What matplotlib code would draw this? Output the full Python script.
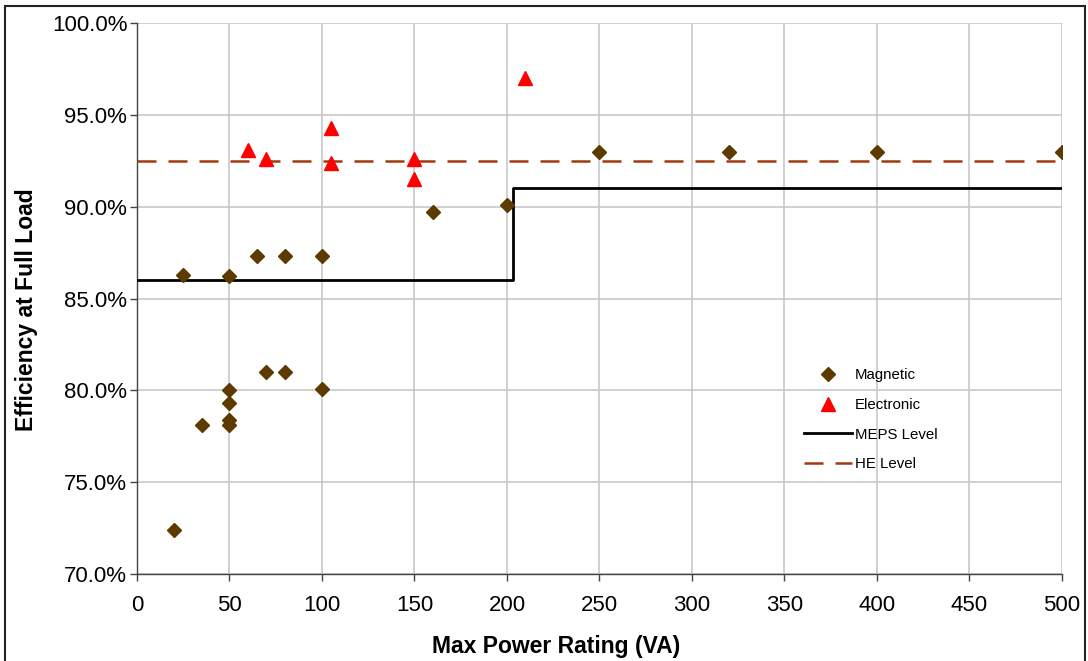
import matplotlib.pyplot as plt
from matplotlib.patches import Rectangle
from matplotlib.ticker import FuncFormatter

plt.rcParams['font.family'] = ['Liberation Sans', 'DejaVu Sans']

# Magnetic transformers: (rating VA, efficiency %)
magnetic_va = [20, 25, 35, 50, 50, 50, 50, 50, 65, 70, 80, 80, 100, 100,
               160, 200, 250, 320, 400, 500]
magnetic_eff = [72.4, 86.3, 78.1, 86.2, 80.0, 79.3, 78.4, 78.1, 87.3, 81.0,
                87.3, 81.0, 87.3, 80.1, 89.7, 90.1, 93.0, 93.0, 93.0, 93.0]

# Electronic transformers
electronic_va = [60, 70, 105, 105, 150, 150, 210]
electronic_eff = [93.1, 92.6, 94.3, 92.4, 92.6, 91.5, 97.0]

# MEPS step level and high efficiency level
meps_va = [0, 203, 203, 500]
meps_eff = [86.0, 86.0, 91.0, 91.0]
he_va = [0, 500]
he_eff = [92.5, 92.5]

fig = plt.figure(figsize=(10.88, 6.61), dpi=100)
ax = fig.add_axes([0.1259, 0.1316, 0.8502, 0.8336])

ax.plot(magnetic_va, magnetic_eff, linestyle='none', marker='D', ms=7.6,
        color='#5c3a00', label='Magnetic', zorder=4)
ax.plot(electronic_va, electronic_eff, linestyle='none', marker='^', ms=10,
        color='#ff0000', label='Electronic', zorder=4)
ax.plot(meps_va, meps_eff, color='black', lw=2.0, label='MEPS Level', zorder=3)
ax.plot(he_va, he_eff, color='#a3390f', lw=1.8, dashes=(7.6, 4.8),
        label='HE Level', zorder=3)

ax.set_xlim(0, 500)
ax.set_ylim(70, 100)
ax.set_xticks(range(0, 501, 50))
ax.set_yticks(range(70, 101, 5))
ax.yaxis.set_major_formatter(FuncFormatter(lambda v, p: f'{v:.1f}%'))
ax.grid(True, color='#c8c8c8', lw=1.2)
ax.set_axisbelow(True)

for side in ['top', 'right']:
    ax.spines[side].set_visible(False)
for side in ['left', 'bottom']:
    ax.spines[side].set_color('#444444')
    ax.spines[side].set_linewidth(1.0)

ax.tick_params(axis='both', direction='out', length=5, width=1.0,
               color='#444444', labelsize=16)
ax.tick_params(axis='x', pad=10)
ax.tick_params(axis='y', pad=2)

ax.set_xlabel('Max Power Rating (VA)', fontsize=16.5, fontweight='bold')
ax.set_ylabel('Efficiency at Full Load', fontsize=16.5, fontweight='bold', labelpad=10)
ax.xaxis.set_label_coords(0.453, -0.111)
ax.yaxis.label.set_y(0.479)

ax.legend(loc='upper left', bbox_to_anchor=(0.7335, 0.452),
          bbox_transform=fig.transFigure, frameon=False, fontsize=10.8,
          handlelength=3.2, labelspacing=1.05, handletextpad=0.2,
          borderaxespad=0)

fig.patches.append(Rectangle((5 / 1088, -0.05), 1080 / 1088, 1.05 - 6 / 661,
                             transform=fig.transFigure, fill=False,
                             edgecolor='#222222', lw=1.5))

fig.savefig('out.png', dpi=100)
